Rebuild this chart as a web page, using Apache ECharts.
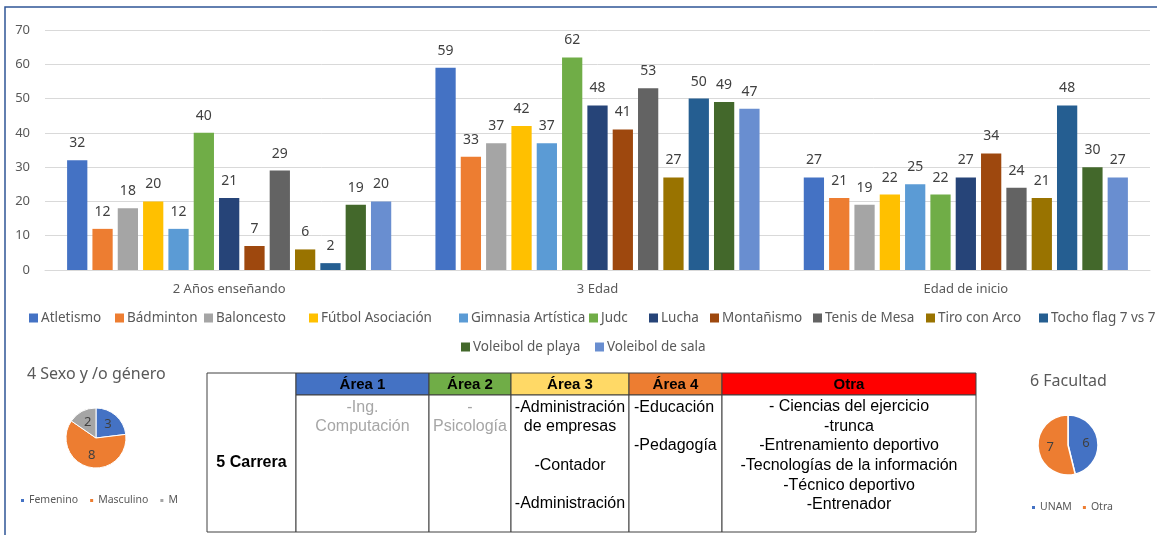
<!DOCTYPE html>
<html>
<head>
<meta charset="utf-8">
<script src="https://cdn.jsdelivr.net/npm/echarts@6/dist/echarts.min.js"></script>
<style>
  html, body { margin: 0; padding: 0; background: #fff; }
  #chart { width: 1157px; height: 535px; }
</style>
</head>
<body>
<div id="chart"></div>
<script>
// categorías del eje x
const categories = ["2 Años enseñando", "3 Edad", "Edad de inicio"];

// deportes (una serie por deporte)
const sports = [
  "Atletismo", "Bádminton", "Baloncesto", "Fútbol Asociación", "Gimnasia Artística",
  "Judc", "Lucha", "Montañismo", "Tenis de Mesa", "Tiro con Arco",
  "Tocho flag 7 vs 7", "Voleibol de playa", "Voleibol de sala"
];

// valores por categoría, en el orden de sports
const aniosEnsenando = [32, 12, 18, 20, 12, 40, 21, 7, 29, 6, 2, 19, 20];
const edad = [59, 33, 37, 42, 37, 62, 48, 41, 53, 27, 50, 49, 47];
const edadInicio = [27, 21, 19, 22, 25, 22, 27, 34, 24, 21, 48, 30, 27];

const yTicks = { min: 0, max: 70, interval: 10 };

// pastel 4 Sexo y /o género
const sexoNames = ["Femenino", "Masculino", "M"];
const sexoValues = [3, 8, 2];

// pastel 6 Facultad
const facultadNames = ["UNAM", "Otra"];
const facultadValues = [6, 7];

// tabla 5 Carrera
const tablaTitulo = "5 Carrera";
const areaHeaders = ["Área 1", "Área 2", "Área 3", "Área 4", "Otra"];
const areaCells = [
  "-Ing.\nComputación",
  "-\nPsicología",
  "-Administración\nde empresas\n\n-Contador\n\n-Administración",
  "-Educación\n\n-Pedagogía",
  "- Ciencias del ejercicio\n-trunca\n-Entrenamiento deportivo\n-Tecnologías de la información\n-Técnico deportivo\n-Entrenador"
];

// colores (estilo Office)
const palette = [
  "#4472C4", "#ED7D31", "#A5A5A5", "#FFC000", "#5B9BD5", "#70AD47", "#264478",
  "#9E480E", "#636363", "#997300", "#255E91", "#43682B", "#698ED0"
];
const headerColors = ["#4472C4", "#70AD47", "#FFD966", "#ED7D31", "#FF0000"];

const FONT = "Noto Sans";
const TFONT = '"Liberation Sans", Arial';

// posición de cada entrada de la leyenda (x del icono, fila)
const legendPos = [
  [29, 311], [115, 311], [204, 311], [309, 311], [459, 311], [589, 311],
  [649, 311], [710, 311], [813, 311], [926, 311], [1039, 311],
  [461, 340], [595, 340]
];

// ---- tabla con graphic ----
const colX = [207, 296, 429, 511, 629, 722, 976];
const tTop = 373, tHead = 395, tBottom = 532;
const tableGraphic = [];

tableGraphic.push({
  type: "rect",
  shape: { x: colX[0], y: tTop, width: colX[1] - colX[0], height: tBottom - tTop },
  style: { fill: "#fff", stroke: "#404040", lineWidth: 1 }
});
tableGraphic.push({
  type: "text",
  style: {
    text: tablaTitulo, x: (colX[0] + colX[1]) / 2, y: 463,
    font: "bold 16px " + TFONT, fill: "#000",
    align: "center", verticalAlign: "middle", textAlign: "center", textVerticalAlign: "middle"
  }
});

areaHeaders.forEach((h, j) => {
  const x0 = colX[j + 1], x1 = colX[j + 2];
  tableGraphic.push({
    type: "rect",
    shape: { x: x0, y: tTop, width: x1 - x0, height: tHead - tTop },
    style: { fill: headerColors[j], stroke: "#404040", lineWidth: 1 }
  });
  tableGraphic.push({
    type: "rect",
    shape: { x: x0, y: tHead, width: x1 - x0, height: tBottom - tHead },
    style: { fill: "#fff", stroke: "#404040", lineWidth: 1 }
  });
  tableGraphic.push({
    type: "text",
    style: {
      text: h, x: (x0 + x1) / 2, y: (tTop + tHead) / 2 + 1,
      font: "bold 15px " + TFONT, fill: "#000",
      align: "center", verticalAlign: "middle", textAlign: "center", textVerticalAlign: "middle"
    }
  });
  const leftAligned = j === 3;
  tableGraphic.push({
    type: "text",
    style: {
      text: areaCells[j],
      x: leftAligned ? x0 + 5 : (x0 + x1) / 2,
      y: j === 4 ? 397 : 398,
      font: "16px " + TFONT,
      lineHeight: j === 4 ? 19.6 : 19.2,
      fill: j < 2 ? "#A6A6A6" : "#000",
      align: leftAligned ? "left" : "center", textAlign: leftAligned ? "left" : "center",
      verticalAlign: "top", textVerticalAlign: "top"
    }
  });
});

// marco azul
const frame = {
  type: "rect",
  silent: true,
  shape: { x: 5, y: 7, width: 1300, height: 700 },
  style: { fill: "none", stroke: "#2F5597", lineWidth: 1.5 }
};

const barSeries = sports.map((name, i) => ({
  name,
  type: "bar",
  data: [aniosEnsenando[i], edad[i], edadInicio[i]],
  itemStyle: { color: palette[i] },
  barGap: "25%",
  barCategoryGap: "12%",
  label: {
    show: true,
    position: "top",
    distance: 10,
    fontFamily: FONT,
    fontSize: 14,
    color: "#404040"
  }
}));

// una leyenda por deporte para colocarlas como en la imagen
const sportLegends = sports.map((name, i) => ({
  data: [name],
  left: legendPos[i][0], top: legendPos[i][1], padding: 0,
  itemWidth: 9, itemHeight: 9,
  icon: "rect",
  textStyle: { fontFamily: FONT, fontSize: 13.5, color: "#595959", padding: [0, 0, 0, -2] }
}));

const pieLabel = {
  show: true,
  position: "inside",
  formatter: "{c}",
  fontFamily: FONT,
  fontSize: 13,
  color: "#404040"
};

const option = {
  animation: false,
  backgroundColor: "#fff",
  textStyle: { fontFamily: FONT },
  title: [
    { text: "4 Sexo y /o género", left: 27, top: 366, padding: 0,
      textStyle: { fontFamily: FONT, fontSize: 16, fontWeight: "normal", color: "#595959" } },
    { text: "6 Facultad", left: 1030, top: 373, padding: 0,
      textStyle: { fontFamily: FONT, fontSize: 16, fontWeight: "normal", color: "#595959" } }
  ],
  grid: { left: 45, right: 7, top: 30, bottom: 265 },
  xAxis: {
    type: "category",
    data: categories,
    axisTick: { show: false },
    axisLine: { lineStyle: { color: "#D9D9D9" } },
    axisLabel: { color: "#595959", fontFamily: FONT, fontSize: 13, margin: 13 }
  },
  yAxis: {
    type: "value",
    min: yTicks.min,
    max: yTicks.max,
    interval: yTicks.interval,
    axisLine: { show: false },
    axisTick: { show: false },
    axisLabel: { color: "#595959", fontFamily: FONT, fontSize: 13, margin: 15 },
    splitLine: { lineStyle: { color: "#D9D9D9" } }
  },
  legend: sportLegends.concat([
    {
      data: sexoNames,
      left: 19, top: 495, padding: 0,
      itemWidth: 5, itemHeight: 5, itemGap: 10,
      icon: "rect",
      textStyle: { fontFamily: FONT, fontSize: 10.5, color: "#595959", padding: [0, 0, 0, -1] }
    },
    {
      data: facultadNames,
      left: 1030, top: 502, padding: 0,
      itemWidth: 5, itemHeight: 5, itemGap: 9,
      icon: "rect",
      textStyle: { fontFamily: FONT, fontSize: 10.5, color: "#595959", padding: [0, 0, 0, -1] }
    }
  ]),
  series: barSeries.concat([
    {
      name: "4 Sexo y /o género",
      type: "pie",
      center: [96, 438],
      radius: 30,
      startAngle: 90,
      clockwise: true,
      silent: true,
      label: pieLabel,
      labelLine: { show: false },
      itemStyle: { borderColor: "#fff", borderWidth: 1 },
      data: sexoNames.map((n, i) => ({ name: n, value: sexoValues[i], itemStyle: { color: palette[i] } }))
    },
    {
      name: "6 Facultad",
      type: "pie",
      center: [1068, 445],
      radius: 30,
      startAngle: 90,
      clockwise: true,
      silent: true,
      label: pieLabel,
      labelLine: { show: false },
      itemStyle: { borderColor: "#fff", borderWidth: 1.5 },
      data: facultadNames.map((n, i) => ({ name: n, value: facultadValues[i], itemStyle: { color: palette[i] } }))
    }
  ]),
  graphic: [frame].concat(tableGraphic)
};

const myChart = echarts.init(document.getElementById("chart"));
myChart.setOption(option);
</script>
</body>
</html>
